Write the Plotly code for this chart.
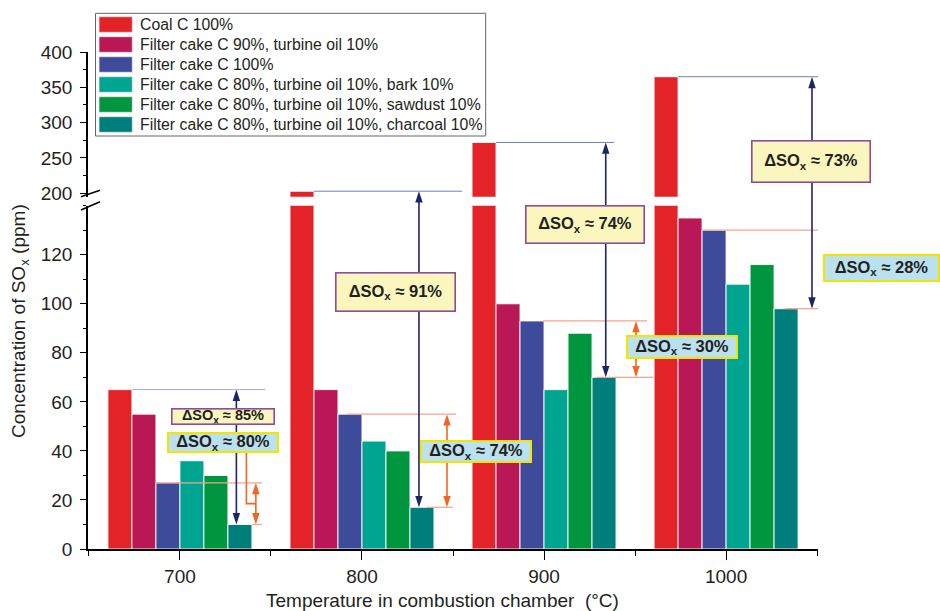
import plotly.graph_objects as go

# ---------------- data ----------------
temperatures = [700, 800, 900, 1000]
tick_labels = ["700", "800", "900", "1000"]
series_names = [
    "Coal C 100%",
    "Filter cake C 90%, turbine oil 10%",
    "Filter cake C 100%",
    "Filter cake C 80%, turbine oil 10%, bark 10%",
    "Filter cake C 80%, turbine oil 10%, sawdust 10%",
    "Filter cake C 80%, turbine oil 10%, charcoal 10%",
]
coal_c100 = [65, 203, 272, 365]
fc90_oil10 = [55, 65, 100, 135]
fc100 = [27, 55, 93, 130]
fc80_oil10_bark10 = [36, 44, 65, 108]
fc80_oil10_sawdust10 = [30, 40, 88, 116]
fc80_oil10_charcoal10 = [10, 17, 70, 98]
series_values = [coal_c100, fc90_oil10, fc100, fc80_oil10_bark10,
                 fc80_oil10_sawdust10, fc80_oil10_charcoal10]
lower_tick_vals = [0, 20, 40, 60, 80, 100, 120]
upper_tick_vals = [200, 250, 300, 350, 400]
big_drop_labels = ["85%", "91%", "74%", "73%"]     # coal vs charcoal blend
small_drop_labels = ["80%", "74%", "30%", "28%"]   # filter cake vs charcoal blend

# ---------------- style / layout ----------------
colors = ["#E42328", "#B91756", "#3E4B9B", "#00A591", "#00953F", "#007E7B"]
FONT = "Liberation Sans, Arial, sans-serif"
INK = "#231F20"
NAVY = "#1C2566"
NAVY_LINE = "#7080B8"
ORANGE = "#F26522"
ORANGE_LINE = "#F7A48A"

W, H = 940, 611
ML, MR, MT, MB = 88, 122, 52, 62
PW, PH = W - ML - MR, H - MT - MB
BOTTOM = H - MB


def px_x(px):
    return (px - ML) / PW


def px_y(py):
    return (BOTTOM - py) / PH


X_RANGE = [649.5, 1050.5]
LO_RANGE = [0, 140]
LO_DOM = [0, px_y(205.7)]
UP_RANGE = [195.2, 400]
UP_DOM = [px_y(196.7), 1]


def paper_of(v):
    """Paper y of a data value, on whichever panel shows it."""
    if v <= LO_RANGE[1]:
        return LO_DOM[0] + (v - LO_RANGE[0]) / (LO_RANGE[1] - LO_RANGE[0]) * (LO_DOM[1] - LO_DOM[0])
    return UP_DOM[0] + (v - UP_RANGE[0]) / (UP_RANGE[1] - UP_RANGE[0]) * (UP_DOM[1] - UP_DOM[0])


def px_to_lower(py):
    return LO_RANGE[0] + (px_y(py) - LO_DOM[0]) / (LO_DOM[1] - LO_DOM[0]) * (LO_RANGE[1] - LO_RANGE[0])


GROUP_W = 79.1
BAR_W = GROUP_W / 6
BAR_LINE = dict(color="rgba(255,255,255,0.9)", width=1)

fig = go.Figure()
for i, (name, vals) in enumerate(zip(series_names, series_values)):
    fig.add_trace(go.Bar(
        x=temperatures, y=vals, name=name, width=BAR_W, offset=-GROUP_W / 2 + i * BAR_W,
        marker=dict(color=colors[i], line=BAR_LINE),
        xaxis="x", yaxis="y", showlegend=False))
# upper (broken) part of the coal bars
fig.add_trace(go.Bar(
    x=temperatures, y=coal_c100, name=series_names[0], width=BAR_W, offset=-GROUP_W / 2,
    marker=dict(color=colors[0], line=BAR_LINE),
    xaxis="x", yaxis="y2", showlegend=False))

axis_common = dict(showline=True, linecolor="black", linewidth=1.5, showgrid=False,
                   zeroline=False, ticks="outside", tickcolor="black", tickwidth=1.3,
                   tickfont=dict(family=FONT, size=19, color=INK))

fig.update_layout(
    width=W, height=H, margin=dict(l=ML, r=MR, t=MT, b=MB),
    paper_bgcolor="white", plot_bgcolor="white", barmode="overlay",
    font=dict(family=FONT, color=INK),
    xaxis=dict(range=X_RANGE, anchor="y", tickmode="array", tickvals=temperatures,
               ticktext=tick_labels, ticklen=9,
               minor=dict(tickmode="linear", tick0=650, dtick=50, ticklen=5, ticks="outside",
                          tickcolor="black", tickwidth=1.3),
               **axis_common),
    yaxis=dict(range=LO_RANGE, domain=LO_DOM, anchor="x", tickmode="array",
               tickvals=lower_tick_vals, ticklen=6, ticklabelstandoff=4,
               minor=dict(tickmode="linear", tick0=0, dtick=10, ticklen=3.5, ticks="outside",
                          tickcolor="black", tickwidth=1.3),
               **axis_common),
    yaxis2=dict(range=UP_RANGE, domain=UP_DOM, anchor="x", tickmode="array",
                tickvals=upper_tick_vals, ticklen=6, ticklabelstandoff=4,
                minor=dict(tickmode="linear", tick0=200, dtick=25, ticklen=3.5, ticks="outside",
                           tickcolor="black", tickwidth=1.3),
                **axis_common),
)

# axis titles
fig.add_annotation(text="Concentration of SO<sub>x</sub> (ppm)", xref="paper", yref="paper",
                   x=px_x(20), y=px_y(321), textangle=-90, showarrow=False,
                   xanchor="center", yanchor="middle", font=dict(family=FONT, size=19, color=INK))
fig.add_annotation(text="Temperature in combustion chamber\u00a0 (°C)", xref="paper", yref="paper",
                   x=px_x(442), y=px_y(600), showarrow=False, xanchor="center", yanchor="middle",
                   font=dict(family=FONT, size=19, color=INK))

# axis break marks
for (x0, y0, x1, y1) in [(81, 196.7, 100, 190.3), (81, 210, 100, 201.7)]:
    fig.add_shape(type="line", xref="paper", yref="paper", x0=px_x(x0), y0=px_y(y0),
                  x1=px_x(x1), y1=px_y(y1), line=dict(color="black", width=1.5))

# ---------------- reference lines and arrows ----------------
navy_dx = [31, 31.3, 33.9, 47.2]
navy_end = [47, 55, 38.5, 50.5]
orange_dx = [41.7, 46.7, 50.5, 64.8]
fc_line = [(-13.5, 45), (-8.2, 51.6), (-0.5, 56.6), (-13.2, 69.2)]
ch_line = [(39.5, 45), (35.7, 50), (29, 60), (32.4, 65.4)]
coal_right = -GROUP_W / 2 + BAR_W
HEAD = 9  # px of shaft hidden under each arrow head
HEAD_SIZE = 12

for k, t in enumerate(temperatures):
    c = coal_c100[k]
    ch = fc80_oil10_charcoal10[k]
    yref_c = "y" if c <= LO_RANGE[1] else "y2"
    fig.add_shape(type="line", xref="x", yref=yref_c, x0=t + coal_right, x1=t + navy_end[k],
                  y0=c, y1=c, line=dict(color=NAVY_LINE if k else "#A3AACB", width=1))
    fig.add_shape(type="line", xref="x", yref="y", x0=t + fc_line[k][0], x1=t + fc_line[k][1],
                  y0=fc100[k], y1=fc100[k], line=dict(color=ORANGE_LINE, width=1.2))
    fig.add_shape(type="line", xref="x", yref="y", x0=t + ch_line[k][0], x1=t + ch_line[k][1],
                  y0=ch, y1=ch, line=dict(color=ORANGE_LINE, width=1.2))
    # arrow shafts
    fig.add_shape(type="line", xref="x", yref="paper", x0=t + navy_dx[k], x1=t + navy_dx[k],
                  y0=paper_of(ch) + HEAD / PH, y1=paper_of(c) - HEAD / PH,
                  line=dict(color=NAVY, width=1.6))
    fig.add_shape(type="line", xref="x", yref="paper", x0=t + orange_dx[k], x1=t + orange_dx[k],
                  y0=paper_of(ch) + HEAD / PH, y1=paper_of(fc100[k]) - HEAD / PH,
                  line=dict(color=ORANGE, width=1.6))

# arrow heads (symbol "arrow" has its tip on the data point)
head_x, head_y, head_ang, head_col = [], [], [], []
up_x, up_y = [], []
for k, t in enumerate(temperatures):
    ch = fc80_oil10_charcoal10[k]
    head_x += [t + navy_dx[k], t + orange_dx[k], t + orange_dx[k]]
    head_y += [ch, ch, fc100[k]]
    head_ang += [180, 180, 0]
    head_col += [NAVY, ORANGE, ORANGE]
    if coal_c100[k] <= LO_RANGE[1]:
        head_x.append(t + navy_dx[k]); head_y.append(coal_c100[k])
        head_ang.append(0); head_col.append(NAVY)
    else:
        up_x.append(t + navy_dx[k]); up_y.append(coal_c100[k])

fig.add_trace(go.Scatter(x=head_x, y=head_y, mode="markers", xaxis="x", yaxis="y",
                         cliponaxis=False, showlegend=False, hoverinfo="skip",
                         marker=dict(symbol="arrow", size=HEAD_SIZE, angle=head_ang, color=head_col,
                                     line=dict(width=0))))
fig.add_trace(go.Scatter(x=up_x, y=up_y, mode="markers", xaxis="x", yaxis="y2",
                         cliponaxis=False, showlegend=False, hoverinfo="skip",
                         marker=dict(symbol="arrow", size=HEAD_SIZE, angle=0, color=NAVY,
                                     line=dict(width=0))))

# connector from the 700 °C small box to the orange arrow
mid = (fc100[0] + fc80_oil10_charcoal10[0]) / 2
xc = temperatures[0] + 36.5
fig.add_shape(type="path", xref="x", yref="y",
              path=f"M {xc},{px_to_lower(452)} L {xc},{mid} L {temperatures[0] + orange_dx[0]},{mid}",
              line=dict(color=ORANGE, width=1.6))

# ---------------- label boxes ----------------
big_boxes = [(223, 416, 104, 17, 14.5), (395.5, 292, 121, 40, 16.5), (585, 224.5, 120, 39, 16.5),
             (811, 161.5, 120, 43, 16.5)]
small_boxes = [(223, 442, 112, 21, 16.5), (476, 451.5, 112, 23, 16.5), (682, 347, 112, 24, 16.5),
               (881.5, 268, 117, 28, 16.5)]


def box(label, spec, bg, border, bw):
    cx, cy, w, h, fs = spec
    pad = 0
    fig.add_annotation(text=f"<b>ΔSO<sub>x</sub> ≈ {label}</b>", xref="paper", yref="paper",
                       x=px_x(cx), y=px_y(cy), xanchor="center", yanchor="middle", showarrow=False,
                       width=w - 2 * (bw + pad), height=h - 2 * (bw + pad), borderpad=pad,
                       bgcolor=bg, bordercolor=border, borderwidth=bw, align="center", valign="middle",
                       font=dict(family=FONT, size=fs, color=INK))


for lab, spec in zip(big_drop_labels, big_boxes):
    box(lab, spec, "#FAF6BE", "#8E4A9E", 1.6)
for lab, spec in zip(small_drop_labels, small_boxes):
    box(lab, spec, "#BCE1EE", "#F2E600", 2)

# ---------------- legend ----------------
fig.add_shape(type="rect", xref="paper", yref="paper", x0=px_x(95.5), x1=px_x(485.7),
              y0=px_y(13.3), y1=px_y(136), line=dict(color="#666666", width=1), fillcolor="white",
              layer="above")
for i, name in enumerate(series_names):
    cy = 24.5 + 20 * i
    fig.add_shape(type="rect", xref="paper", yref="paper", x0=px_x(99), x1=px_x(132.3),
                  y0=px_y(cy - 7.8), y1=px_y(cy + 7.8), fillcolor=colors[i],
                  line=dict(color="#E8E8E8", width=0.8), layer="above")
    fig.add_annotation(text=name, xref="paper", yref="paper", x=px_x(138), y=px_y(cy),
                       xanchor="left", yanchor="middle", showarrow=False,
                       font=dict(family=FONT, size=15.8, color=INK))

fig.write_html("out.html")
